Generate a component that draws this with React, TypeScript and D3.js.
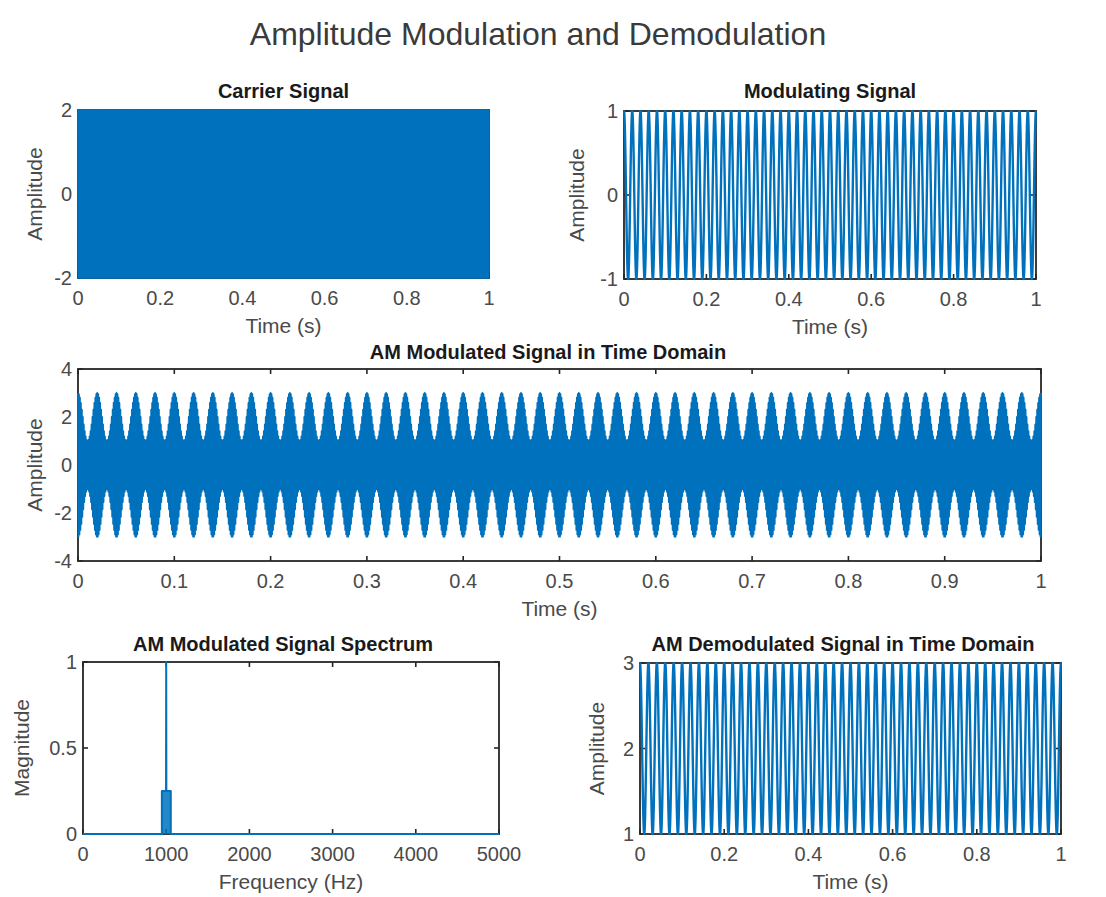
import React from "react";
import * as d3 from "d3";

const W = 1106;
const H = 897;
const FONT = "'Liberation Sans', Arial, sans-serif";
const BLUE = "#0072BD";
const AX = "#262626";

// signal settings
const sampleRate = 10000;
const signalNames = ["carrier", "modulating"];
const signalFreqs = [1000, 50]; // Hz
const signalAmps = [2, 1];
const modIndex = [0.5];

// spectrum outline (Hz, normalised magnitude)
const spectrumFreqs = [0, 948, 948, 998, 1000, 1002, 1055, 1055, 5000];
const spectrumMags = [0, 0, 0.25, 0.25, 1, 0.25, 0.25, 0, 0];

// tick values
const unitTicks = [0, 0.2, 0.4, 0.6, 0.8, 1];
const tenthTicks = [0, 0.1, 0.2, 0.3, 0.4, 0.5, 0.6, 0.7, 0.8, 0.9, 1];
const freqTicks = [0, 1000, 2000, 3000, 4000, 5000];
const carrierYTicks = [-2, 0, 2];
const modYTicks = [-1, 0, 1];
const amYTicks = [-4, -2, 0, 2, 4];
const specYTicks = [0, 0.5, 1];
const demodYTicks = [1, 2, 3];

const time = d3.range(0, sampleRate + 1).map(i => i / sampleRate);
const carrier = time.map(t => signalAmps[0] * Math.cos(2 * Math.PI * signalFreqs[0] * t));
const message = time.map(t => signalAmps[1] * Math.cos(2 * Math.PI * signalFreqs[1] * t));
const amSignal = carrier.map((c, i) => (1 + modIndex[0] * message[i]) * c);
const demod = message.map(m => 2 + m);

type PanelProps = {
  x0: number; y0: number; w: number; h: number;
  xDomain: [number, number]; yDomain: [number, number];
  xTicks: number[]; yTicks: number[];
  title: string; xLabel: string; yLabel: string;
  yLabelX: number; titleY: number; titleX?: number;
  series: { xs: number[]; ys: number[] };
  area?: boolean;
  lw?: number;
};

function Panel(p: PanelProps) {
  const x = d3.scaleLinear().domain(p.xDomain).range([p.x0, p.x0 + p.w]);
  const y = d3.scaleLinear().domain(p.yDomain).range([p.y0 + p.h, p.y0]);
  const pts = p.series.xs.map((v, i) => [v, p.series.ys[i]] as [number, number]);
  const line = d3.line<[number, number]>().x(d => x(d[0])).y(d => y(d[1]));
  const area = d3.area<[number, number]>().x(d => x(d[0])).y0(y(0)).y1(d => y(d[1]));
  const tl = 5;
  return (
    <g>
      <rect x={p.x0} y={p.y0} width={p.w} height={p.h} fill="white" stroke={AX} strokeWidth={1.8} />
      {p.xTicks.map(t => (
        <g key={"x" + t}>
          <line x1={x(t)} x2={x(t)} y1={p.y0 + p.h} y2={p.y0 + p.h - tl} stroke={AX} strokeWidth={1.6} />
          <line x1={x(t)} x2={x(t)} y1={p.y0} y2={p.y0 + tl} stroke={AX} strokeWidth={1.6} />
          <text x={x(t)} y={p.y0 + p.h + 27} textAnchor="middle" fontSize={20} fill="#4a4a4a">{String(t)}</text>
        </g>
      ))}
      {p.yTicks.map(t => (
        <g key={"y" + t}>
          <line x1={p.x0} x2={p.x0 + tl} y1={y(t)} y2={y(t)} stroke={AX} strokeWidth={1.6} />
          <line x1={p.x0 + p.w} x2={p.x0 + p.w - tl} y1={y(t)} y2={y(t)} stroke={AX} strokeWidth={1.6} />
          <text x={p.x0 - 6} y={y(t) + 7} textAnchor="end" fontSize={20} fill="#4a4a4a">{String(t)}</text>
        </g>
      ))}
      {p.area && <path d={area(pts) || ""} fill={BLUE} fillOpacity={0.85} />}
      <path d={line(pts) || ""} fill="none" stroke={BLUE} strokeWidth={p.lw ?? 1.6} strokeLinejoin="round" />
      <text x={p.x0 + p.w / 2} y={p.y0 + p.h + 55} textAnchor="middle" fontSize={21} fill="#4a4a4a">{p.xLabel}</text>
      <text transform={`translate(${p.yLabelX},${p.y0 + p.h / 2}) rotate(-90)`} textAnchor="middle" fontSize={21} fill="#4a4a4a">{p.yLabel}</text>
      <text x={p.titleX ?? p.x0 + p.w / 2} y={p.titleY} textAnchor="middle" fontSize={20} fontWeight="bold" fill="#1a1a1a">{p.title}</text>
    </g>
  );
}

export default function App() {
  return (
    <svg width={W} height={H} style={{ position: "absolute", left: 0, top: 0, fontFamily: FONT }}>
      <rect width={W} height={H} fill="white" />
      <text x={538} y={45} textAnchor="middle" fontSize={32} fill="#3a3a3a">Amplitude Modulation and Demodulation</text>
      <Panel x0={78} y0={110} w={411} h={168} xDomain={[0, 1]} yDomain={[-2, 2]}
        xTicks={unitTicks} yTicks={carrierYTicks} title="Carrier Signal" xLabel="Time (s)" yLabel="Amplitude"
        yLabelX={42} titleY={98} series={{ xs: time, ys: carrier }} />
      <Panel x0={624} y0={111} w={412} h={168} xDomain={[0, 1]} yDomain={[-1, 1]}
        xTicks={unitTicks} yTicks={modYTicks} title="Modulating Signal" xLabel="Time (s)" yLabel="Amplitude"
        yLabelX={584} titleY={98} series={{ xs: time, ys: message }} lw={2.4} />
      <Panel x0={78} y0={369} w={963} h={192} xDomain={[0, 1]} yDomain={[-4, 4]}
        xTicks={tenthTicks} yTicks={amYTicks} title="AM Modulated Signal in Time Domain" xLabel="Time (s)" yLabel="Amplitude"
        yLabelX={42} titleY={359} titleX={548} series={{ xs: time, ys: amSignal }} lw={1.8} />
      <Panel x0={83} y0={662} w={416} h={172} xDomain={[0, 5000]} yDomain={[0, 1]}
        xTicks={freqTicks} yTicks={specYTicks} title="AM Modulated Signal Spectrum" xLabel="Frequency (Hz)" yLabel="Magnitude"
        yLabelX={29} titleY={651} titleX={283} series={{ xs: spectrumFreqs, ys: spectrumMags }} area lw={2} />
      <Panel x0={640} y0={663} w={421} h={171} xDomain={[0, 1]} yDomain={[1, 3]}
        xTicks={unitTicks} yTicks={demodYTicks} title="AM Demodulated Signal in Time Domain" xLabel="Time (s)" yLabel="Amplitude"
        yLabelX={604} titleY={651} titleX={843} series={{ xs: time, ys: demod }} lw={2.4} />
    </svg>
  );
}
